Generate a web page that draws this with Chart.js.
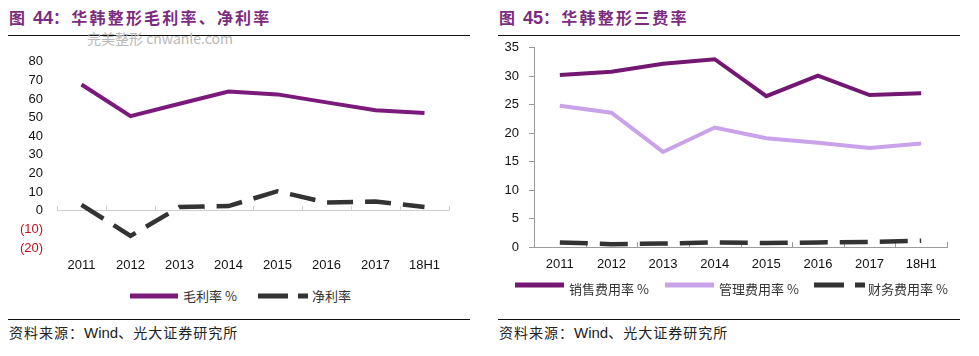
<!DOCTYPE html>
<html><head><meta charset="utf-8">
<script src="https://cdn.jsdelivr.net/npm/chart.js@4/dist/chart.umd.min.js"></script>
<style>
html,body{margin:0;padding:0;background:#fff;}
body{width:979px;height:356px;position:relative;overflow:hidden;font-family:"Liberation Sans",Arial,sans-serif;}
.title{position:absolute;top:6px;font-family:"Noto Sans CJK SC",sans-serif;font-weight:700;font-size:16px;color:#7B2C80;letter-spacing:2.2px;white-space:nowrap;line-height:22px;}
.title b{font-family:"Liberation Sans",Arial,sans-serif;font-size:18px;letter-spacing:0;}
.rule{position:absolute;height:1px;background:#111;}
.src{position:absolute;top:322px;font-family:"Noto Sans CJK SC",sans-serif;font-size:14px;color:#222;white-space:nowrap;line-height:20px;letter-spacing:1px;}
.src span{font-family:"Liberation Sans",Arial,sans-serif;font-size:15px;letter-spacing:0;}
.wm{position:absolute;left:87px;top:29px;font-family:"Noto Sans CJK SC",sans-serif;font-size:14px;color:#b8b8b8;white-space:nowrap;line-height:18px;}
.lg{position:absolute;font-family:"Noto Sans CJK SC",sans-serif;font-size:13px;color:#333;white-space:nowrap;line-height:18px;}
svg.ls{position:absolute;}
canvas{position:absolute;}
</style></head>
<body>
<div class="title" style="left:9px;">图 <b>44</b>：华韩整形毛利率、净利率</div>
<div class="rule" style="left:8px;top:35px;width:462px;"></div>
<div class="wm">完美整形 cnwanle.com</div>
<div class="title" style="left:499px;">图 <b>45</b>：华韩整形三费率</div>
<div class="rule" style="left:498px;top:35px;width:462px;"></div>

<div id="c1w" style="position:absolute;left:0;top:40px;width:470px;height:240px;"><canvas id="c1"></canvas></div>
<div id="c2w" style="position:absolute;left:490px;top:30px;width:480px;height:250px;"><canvas id="c2"></canvas></div>

<svg class="ls" style="left:128px;top:290px" width="190" height="12">
  <line x1="2" y1="6" x2="50" y2="6" stroke="#7B1A7B" stroke-width="5"/>
  <line x1="130" y1="6" x2="180" y2="6" stroke="#333" stroke-width="5" stroke-dasharray="30,10"/>
</svg>
<div class="lg" style="left:183px;top:287px;">毛利率 %</div>
<div class="lg" style="left:312px;top:287px;">净利率</div>

<svg class="ls" style="left:513px;top:279px" width="360" height="12">
  <line x1="2" y1="6" x2="51" y2="6" stroke="#741773" stroke-width="5"/>
  <line x1="152" y1="6" x2="201" y2="6" stroke="#C9A3EA" stroke-width="5"/>
  <line x1="301" y1="6" x2="352" y2="6" stroke="#333" stroke-width="5" stroke-dasharray="30,11"/>
</svg>
<div class="lg" style="left:569px;top:280px;">销售费用率 %</div>
<div class="lg" style="left:719px;top:280px;">管理费用率 %</div>
<div class="lg" style="left:868px;top:280px;">财务费用率 %</div>

<div class="rule" style="left:8px;top:319px;width:462px;"></div>
<div class="rule" style="left:498px;top:319px;width:462px;"></div>
<div class="src" style="left:9px;">资料来源：<span>Wind</span>、光大证券研究所</div>
<div class="src" style="left:499px;">资料来源：<span>Wind</span>、光大证券研究所</div>

<script>
// ---- data ----
const categories = ['2011','2012','2013','2014','2015','2016','2017','18H1'];
const grossMargin = [67.8, 50.8, 57.5, 64.0, 62.5, 58.2, 54.0, 52.5];
const netMargin = [3.2, -13.5, 2.0, 2.5, 10.5, 4.4, 5.0, 2.0];
const leftTicks = [80, 70, 60, 50, 40, 30, 20, 10, 0, -10, -20];

const sellingRate = [30.2, 30.8, 32.2, 33.0, 26.5, 30.1, 26.7, 27.0];
const adminRate = [24.8, 23.6, 16.7, 21.0, 19.1, 18.3, 17.4, 18.2];
const financeRate = [0.8, 0.5, 0.6, 0.8, 0.7, 0.8, 0.9, 1.1];
const rightTicks = [35, 30, 25, 20, 15, 10, 5, 0];

const tickFont = {family: '"Liberation Sans", Arial, sans-serif', size: 13};

// small tick marks at category boundaries, pointing up from a baseline value
function boundaryTicks(baseValue, color) {
  return {
    id: 'boundaryTicks',
    beforeDatasetsDraw(chart) {
      const xs = chart.scales.x, ys = chart.scales.y;
      const y0 = ys.getPixelForValue(baseValue);
      const ctx = chart.ctx;
      ctx.save();
      ctx.strokeStyle = color; ctx.lineWidth = 1;
      const n = xs.ticks.length;
      for (let i = 0; i <= n; i++) {
        let x;
        if (i === 0) x = xs.left;
        else if (i === n) x = xs.right;
        else x = (xs.getPixelForValue(i - 1) + xs.getPixelForValue(i)) / 2;
        x = Math.round(x) + 0.5;
        ctx.beginPath(); ctx.moveTo(x, y0); ctx.lineTo(x, y0 - 5); ctx.stroke();
      }
      ctx.restore();
    }
  };
}

new Chart(document.getElementById('c1'), {
  type: 'line',
  data: {
    labels: categories,
    datasets: [
      {label: '毛利率 %', data: grossMargin, borderColor: '#7B1A7B', borderWidth: 4, pointRadius: 0, tension: 0, fill: false},
      {label: '净利率', data: netMargin, borderColor: '#333333', borderWidth: 4.5, borderDash: [26, 12], pointRadius: 0, tension: 0, fill: false}
    ]
  },
  options: {
    responsive: true, maintainAspectRatio: false, animation: false,
    layout: {padding: {top: 18, right: 21, left: 0, bottom: 0}},
    plugins: {legend: {display: false}, tooltip: {enabled: false}},
    scales: {
      x: {
        offset: true,
        grid: {display: true, drawOnChartArea: false, drawTicks: false},
        border: {display: false},
        ticks: {font: tickFont, color: '#111', padding: 10, maxRotation: 0},
        afterFit(s) { s.height = 32; }
      },
      y: {
        min: -20, max: 80,
        afterBuildTicks(s) { s.ticks = leftTicks.map(v => ({value: v})); },
        grid: {drawTicks: false, color: c => (c.tick && c.tick.value === 0) ? '#d0d0d0' : 'rgba(0,0,0,0)'},
        border: {display: false},
        ticks: {font: tickFont, padding: 14,
          color: c => (c.tick && c.tick.value < 0) ? '#C0141C' : '#111',
          callback: v => v < 0 ? '(' + Math.abs(v) + ')' : String(v)},
        afterFit(s) { s.width = 57; }
      }
    }
  },
  plugins: [boundaryTicks(0, '#d0d0d0')]
});

new Chart(document.getElementById('c2'), {
  type: 'line',
  data: {
    labels: categories,
    datasets: [
      {label: '销售费用率 %', data: sellingRate, borderColor: '#741773', borderWidth: 4, pointRadius: 0, tension: 0, fill: false},
      {label: '管理费用率 %', data: adminRate, borderColor: '#C9A3EA', borderWidth: 4, pointRadius: 0, tension: 0, fill: false},
      {label: '财务费用率 %', data: financeRate, borderColor: '#333333', borderWidth: 4.5, borderDash: [28, 12], pointRadius: 0, tension: 0, fill: false}
    ]
  },
  options: {
    responsive: true, maintainAspectRatio: false, animation: false,
    layout: {padding: {top: 15, right: 23, left: 0, bottom: 0}},
    plugins: {legend: {display: false}, tooltip: {enabled: false}},
    scales: {
      x: {
        offset: true,
        grid: {display: true, drawOnChartArea: false, drawTicks: false},
        border: {display: true, color: '#9a9a9a', width: 1},
        ticks: {font: tickFont, color: '#111', padding: 10, maxRotation: 0},
        afterFit(s) { s.height = 33; }
      },
      y: {
        min: 0, max: 35,
        afterBuildTicks(s) { s.ticks = rightTicks.map(v => ({value: v})); },
        grid: {drawOnChartArea: false, drawTicks: true, tickLength: 5, color: '#9a9a9a'},
        border: {display: true, color: '#9a9a9a', width: 1},
        ticks: {font: tickFont, color: '#111', padding: 10},
        afterFit(s) { s.width = 44; }
      }
    }
  },
  plugins: [boundaryTicks(0, '#9a9a9a')]
});
</script>
</body></html>
